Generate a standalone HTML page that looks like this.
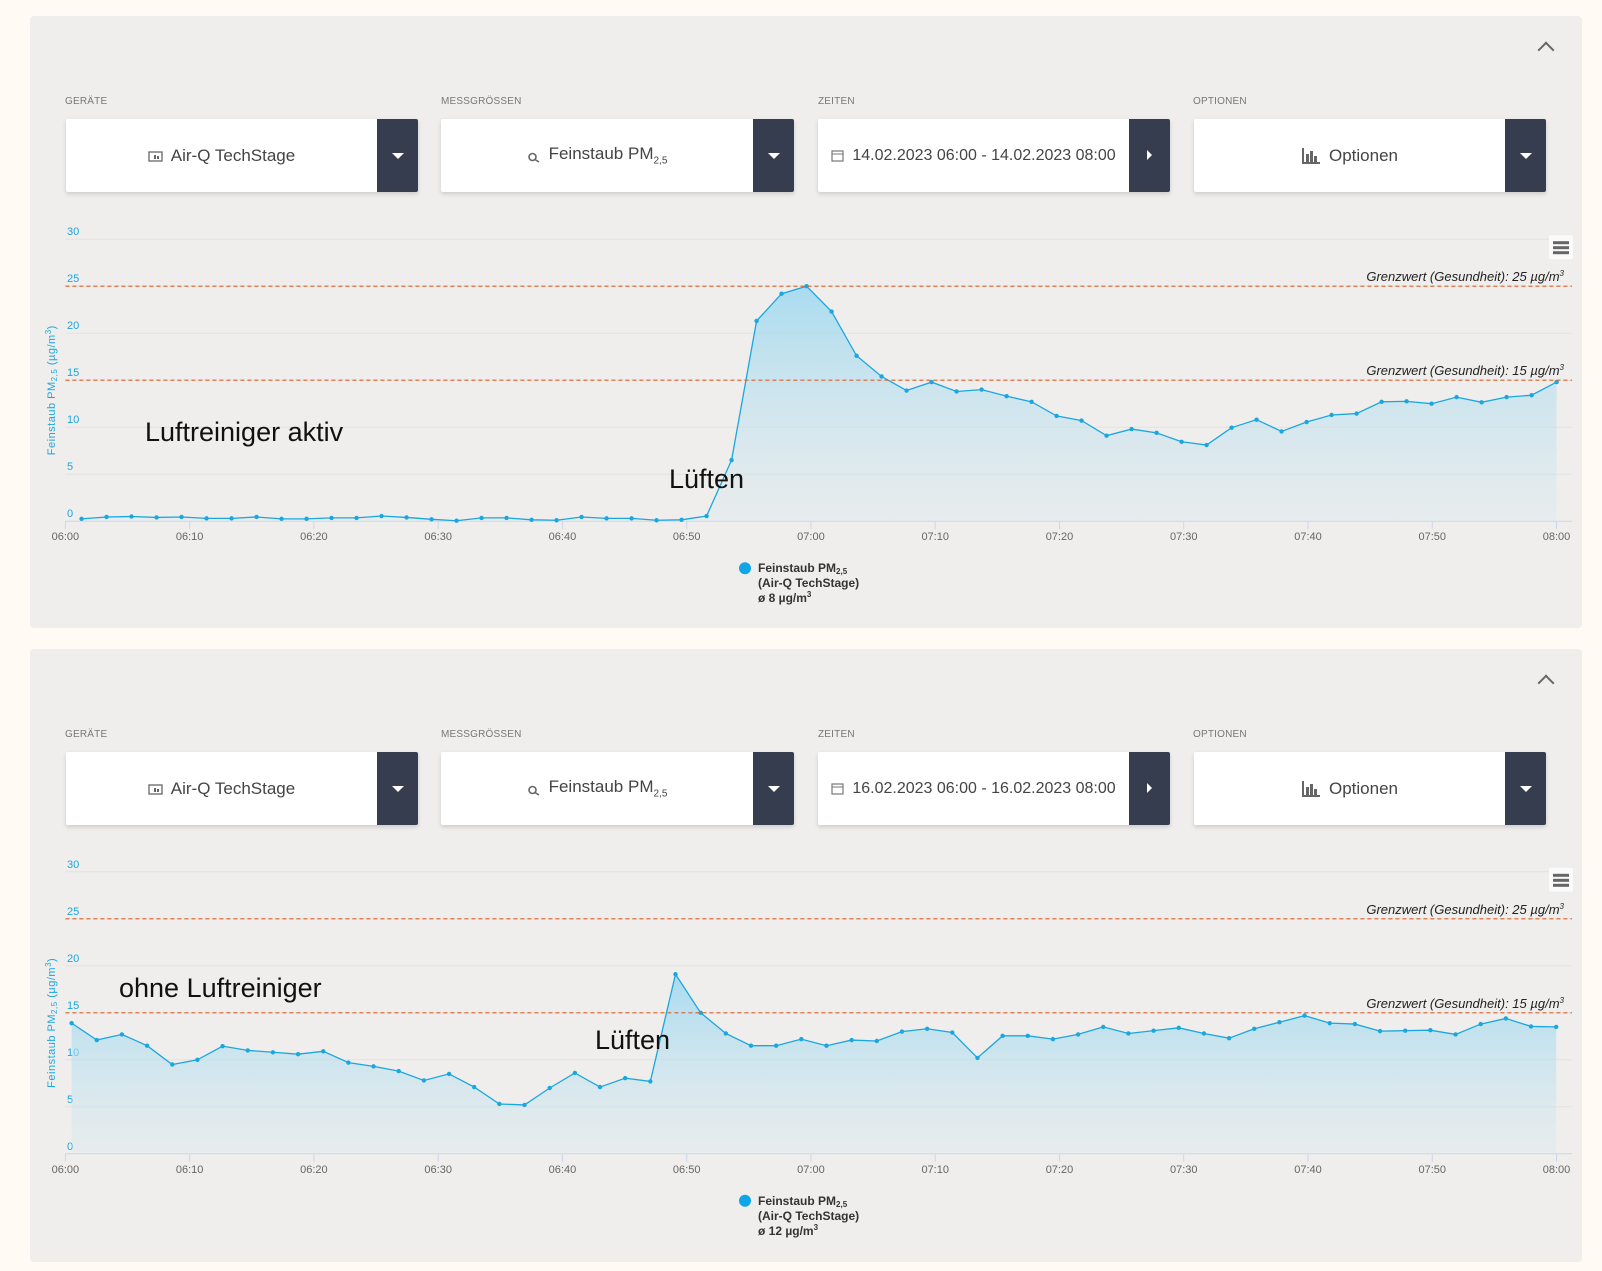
<!DOCTYPE html>
<html><head><meta charset="utf-8"><style>
html,body{margin:0;padding:0;width:1602px;height:1271px;background:#fffbf4;font-family:"Liberation Sans",sans-serif;overflow:hidden;position:relative}
.panel{position:absolute;left:30px;width:1552px;background:#efeeec;border-radius:4px}
.chev{position:absolute;left:1540px;width:10px;height:10px;border-left:2px solid #666;border-top:2px solid #666;transform:rotate(45deg)}
.lbl{position:absolute;font-size:10px;color:#777;letter-spacing:0.2px}
.dd{position:absolute;height:73px;background:#fff;box-shadow:0 2px 4px rgba(0,0,0,.15);border-radius:2px}
.dd .txt{position:absolute;left:0;right:41px;top:0;bottom:0;display:flex;align-items:center;justify-content:center;font-size:17px;color:#444;gap:8px}
.dd .btn{position:absolute;right:0;top:0;width:41px;height:100%;background:#353d4f;border-radius:0 2px 2px 0}
.caret{position:absolute;left:15px;top:34px;border-left:6px solid transparent;border-right:6px solid transparent;border-top:6px solid #fff}
.arrow{position:absolute;left:18px;top:31px;border-top:5px solid transparent;border-bottom:5px solid transparent;border-left:5px solid #fff}
svg text{font-family:"Liberation Sans",sans-serif}
</style></head><body>
<div class="panel" style="top:16px;height:612px"></div>
<div class="panel" style="top:649px;height:613px"></div>
<div class="chev" style="top:44px"></div>
<div class="chev" style="top:677px"></div>
<div id="controls"></div>
<svg id="c1" width="1602" height="1271" style="position:absolute;left:0;top:0"></svg>
<script>
// Chart data
const startMin1 = 1.3, stepMin1 = 2.012;
const values1 = [0.25,0.45,0.5,0.4,0.45,0.3,0.3,0.45,0.25,0.25,0.35,0.35,0.55,0.4,0.2,0.05,0.35,0.35,0.15,0.1,0.45,0.3,0.3,0.1,0.15,0.55,6.5,21.3,24.2,25.0,
22.3,17.6,15.4,13.9,14.8,13.8,14.0,13.3,12.7,11.2,10.7,9.1,9.8,9.4,8.45,8.1,9.95,10.8,9.55,10.55,11.3,11.45,12.7,12.75,12.5,13.2,12.65,13.2,13.4,14.8];
const startMin2 = 0.5, stepMin2 = 2.025;
const values2 = [13.9,12.1,12.7,11.5,9.5,10.0,11.45,11.0,10.8,10.6,10.9,9.7,9.3,8.8,7.8,8.5,7.1,5.3,5.2,7.0,8.6,7.1,8.05,7.7,19.1,15.0,12.8,11.5,11.5,12.2,11.5,
12.1,12.0,13.0,13.3,12.9,10.2,12.55,12.55,12.2,12.7,13.5,12.8,13.1,13.4,12.8,12.3,13.3,14.0,14.7,13.9,13.8,13.05,13.1,13.15,12.7,13.8,14.4,13.55,13.5];
const yTicks = [0,5,10,15,20,25,30];
const xTickLabels = ["06:00","06:10","06:20","06:30","06:40","06:50","07:00","07:10","07:20","07:30","07:40","07:50","08:00"];
const limits = [25,15];
const avgLabels = ["8","12"];

const NS="http://www.w3.org/2000/svg";
const svg=document.getElementById('c1');
function el(tag,attrs,parent){const e=document.createElementNS(NS,tag);for(const k in attrs)e.setAttribute(k,attrs[k]);(parent||svg).appendChild(e);return e;}

const ctrl=document.getElementById('controls');
function dropdown(x,y,w,name,html,arrow,fs){
  const d=document.createElement('div');d.className='dd';d.style.left=x+'px';d.style.top=y+'px';d.style.width=w+'px';
  
  
  d.innerHTML='<div class="txt"'+(fs?' style="font-size:'+fs+'px"':'')+'>'+html+'</div><div class="btn"><div class="'+(arrow?'arrow':'caret')+'"></div></div>';
  ctrl.appendChild(d);
}
function label(x,y,t,name){const l=document.createElement('div');l.className='lbl';l.style.left=x+'px';l.style.top=y+'px';l.textContent=t;
  
  
  ctrl.appendChild(l);}
const devIcon='<svg width="15" height="12"><rect x="1" y="2" width="13" height="9" fill="none" stroke="#666" stroke-width="1.3"/><rect x="6" y="5" width="2" height="4" fill="#666"/><rect x="9" y="6" width="2" height="3" fill="#666"/></svg>';
const searchIcon='<svg width="14" height="14"><circle cx="5.5" cy="8" r="3.5" fill="none" stroke="#666" stroke-width="1.6"/><line x1="8" y1="10.5" x2="12" y2="13" stroke="#666" stroke-width="1.6"/></svg>';
const calIcon='<svg width="13" height="13"><rect x="1" y="2" width="11" height="10" fill="none" stroke="#777" stroke-width="1.2"/><line x1="1" y1="5" x2="12" y2="5" stroke="#777"/></svg>';
const barIcon='<svg width="20" height="18"><rect x="1" y="1" width="2" height="16" fill="#666"/><rect x="1" y="15" width="18" height="2" fill="#666"/><rect x="5" y="7" width="3" height="8" fill="#666"/><rect x="9" y="4" width="3" height="11" fill="#666"/><rect x="13" y="9" width="3" height="6" fill="#666"/></svg>';
[[119,96,"14.02.2023 06:00 - 14.02.2023 08:00","top"],[752,729,"16.02.2023 06:00 - 16.02.2023 08:00","bottom"]].forEach(([y,ly,dt,s])=>{
  label(65,ly,"GERÄTE","label-geraete-"+s);label(441,ly,"MESSGRÖSSEN","label-messgroessen-"+s);label(818,ly,"ZEITEN","label-zeiten-"+s);label(1193,ly,"OPTIONEN","label-optionen-"+s);
  dropdown(66,y,352,"device-dropdown-"+s,devIcon+'<span>Air-Q TechStage</span>');
  dropdown(441,y,353,"measure-dropdown-"+s,searchIcon+'<span>Feinstaub PM<sub style="font-size:10px">2,5</sub></span>');
  dropdown(818,y,352,"time-range-"+s,calIcon+'<span>'+dt+'</span>',true,16);
  dropdown(1194,y,352,"options-dropdown-"+s,barIcon+'<span>Optionen</span>');
});

function chart(y0,y30,startMin,stepMin,values,avg,s,ann){
  const xL=65.4,xR=1556.5,gR=1572;
  const X=m=>xL+(xR-xL)*m/120;
  const Y=v=>y0+(y30-y0)*v/30;
  const g=el('g',{});
  
  
  const defs=el('defs',{},g);
  const lg=el('linearGradient',{id:'grad'+s,x1:0,y1:0,x2:0,y2:1},defs);
  el('stop',{offset:0,'stop-color':'#9dd8f0','stop-opacity':0.85},lg);
  el('stop',{offset:1,'stop-color':'#cfe6ef','stop-opacity':0.25},lg);
  yTicks.forEach(v=>{
    if(v>0){const gl=el('line',{x1:xL,x2:gR,y1:Y(v),y2:Y(v),stroke:'#e2e2e2','stroke-width':1},g);
    
    }
    const t=el('text',{x:67,y:Y(v)-4,'font-size':11,fill:'#1aa7e0'},g);t.textContent=v;
    
    
  });
  const ax=el('line',{x1:xL,x2:gR,y1:y0,y2:y0,stroke:'#ccd6eb','stroke-width':1},g);
  
  
  xTickLabels.forEach((lab,i)=>{
    const x=X(i*10);
    el('line',{x1:x,x2:x,y1:y0,y2:y0+8,stroke:'#ccd6eb'},g);
    const t=el('text',{x:x,y:y0+19,'font-size':11,fill:'#666','text-anchor':'middle'},g);t.textContent=lab;
    
    
  });
  const yt=el('text',{x:0,y:0,'font-size':11,fill:'#1aa7e0','text-anchor':'middle',transform:`translate(55,${(y0+y30)/2+10}) rotate(-90)`,'letter-spacing':'0.5'},g);
  yt.innerHTML='Feinstaub PM<tspan font-size="8" dy="2">2,5</tspan><tspan dy="-2"> (µg/m</tspan><tspan font-size="8" dy="-4">3</tspan><tspan dy="4">)</tspan>';
  
  
  const pts=values.map((v,i)=>[X(startMin+i*stepMin),Y(v)]);
  const area=el('path',{d:'M'+pts[0][0]+','+y0+' L'+pts.map(p=>p.join(',')).join(' L')+' L'+pts[pts.length-1][0]+','+y0+' Z',fill:`url(#grad${s})`},g);
  
  
  const line=el('polyline',{points:pts.map(p=>p.join(',')).join(' '),fill:'none',stroke:'#1aa7e0','stroke-width':1.3},g);
  
  
  pts.forEach((p,i)=>{const c=el('circle',{cx:p[0],cy:p[1],r:2.2,fill:'#1aa7e0'},g);
    
    });
  limits.forEach(v=>{
    const l=el('line',{x1:xL,x2:gR,y1:Y(v),y2:Y(v),stroke:'#e0602a','stroke-width':1.2,'stroke-dasharray':'4,3'},g);
    
    
    const t=el('text',{x:1564,y:Y(v)-5,'font-size':13,'font-style':'italic',fill:'#222','text-anchor':'end'},g);
    t.innerHTML='Grenzwert (Gesundheit): '+v+' µg/m<tspan font-size="8" dy="-5">3</tspan>';
    
    
  });
  const mb=el('g',{},g);
  
  
  el('rect',{x:1549,y:y30-4,width:24,height:24,fill:'#fafafa',rx:2},mb);
  [2,7,12].forEach(d=>el('rect',{x:1553,y:y30+d,width:16,height:3,fill:'#666'},mb));
  ann.forEach(a=>{const t=el('text',{x:a[0],y:a[1],'font-size':a[3],fill:'#111'},g);t.textContent=a[2];
    
    });
  const lgd=el('g',{},g);
  
  
  const ly=y0+47;
  el('circle',{cx:745,cy:ly,r:6,fill:'#0ea5e9'},lgd);
  const t1=el('text',{x:758,y:ly+4,'font-size':12,'font-weight':'bold',fill:'#333'},lgd);t1.innerHTML='Feinstaub PM<tspan font-size="8" dy="2">2,5</tspan>';
  const t2=el('text',{x:758,y:ly+19,'font-size':12,'font-weight':'bold',fill:'#333'},lgd);t2.textContent='(Air-Q TechStage)';
  const t3=el('text',{x:758,y:ly+34,'font-size':12,'font-weight':'bold',fill:'#333'},lgd);t3.innerHTML='ø '+avg+' µg/m<tspan font-size="8" dy="-5">3</tspan>';
}
chart(521.2,239.2,startMin1,stepMin1,values1,avgLabels[0],'1',[[145,441,'Luftreiniger aktiv',27,'luftreiniger-aktiv'],[669,488,'Lüften',27,'lueften-top']]);
chart(1153.8,871.8,startMin2,stepMin2,values2,avgLabels[1],'2',[[119,997,'ohne Luftreiniger',27,'ohne-luftreiniger'],[595,1049,'Lüften',27,'lueften-bottom']]);
</script>
</body></html>
